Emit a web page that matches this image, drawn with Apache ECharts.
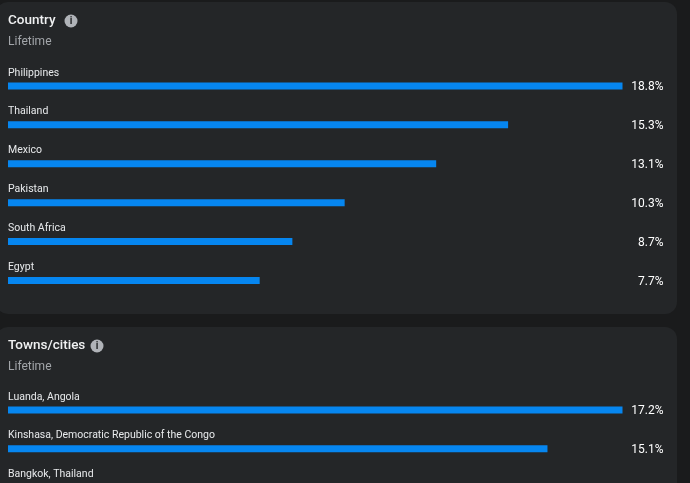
<!DOCTYPE html>
<html>
<head>
<meta charset="utf-8">
<style>html,body{margin:0;padding:0;background:#1a1b1c}#chart{width:690px;height:483px}</style>
<script src="https://cdn.jsdelivr.net/npm/echarts@6/dist/echarts.min.js"></script>
</head>
<body>
<div id="chart"></div>
<script>
const countryNames = ['Philippines', 'Thailand', 'Mexico', 'Pakistan', 'South Africa', 'Egypt'];
const countryShares = [18.8, 15.3, 13.1, 10.3, 8.7, 7.7];
// The third city sits below the fold: only its name shows.
const cityNames = ['Luanda, Angola', 'Kinshasa, Democratic Republic of the Congo', 'Bangkok, Thailand'];
const cityShares = [17.2, 15.1, null];

const FONT = 'Roboto, Lato, sans-serif';
const BAR = '#0686f0';
const PANEL = '#242628';

function share(v) { return v == null ? '' : v.toFixed(1) + '%'; }

function panelAxes(gridIndex, names, shares, maxValue) {
  return {
    x: { type: 'value', gridIndex, min: 0, max: maxValue, show: false },
    y: [
      {
        type: 'category', gridIndex, inverse: true, data: names,
        axisLine: { show: false }, axisTick: { show: false },
        axisLabel: {
          inside: true, margin: 0, align: 'left', verticalAlign: 'bottom',
          padding: [0, 0, 7.5, 0], color: '#e8eaec', fontFamily: FONT, fontSize: 10.5
        }
      },
      {
        type: 'category', gridIndex, inverse: true, position: 'right', data: shares.map(share),
        axisLine: { show: false }, axisTick: { show: false },
        axisLabel: {
          margin: 41, align: 'right', verticalAlign: 'top', lineHeight: 3,
          color: '#ffffff', fontFamily: FONT, fontSize: 12
        }
      }
    ]
  };
}

const a = panelAxes(0, countryNames, countryShares, 18.8);
const b = panelAxes(1, cityNames, cityShares, 17.2);

function infoIcon(cx, cy) {
  return [
    { type: 'circle', shape: { cx, cy, r: 6.5 }, style: { fill: '#b0b3b8' } },
    { type: 'text', x: cx, y: cy, style: { text: 'i', fill: PANEL, font: 'bold 10px ' + FONT, align: 'center', verticalAlign: 'middle' } }
  ];
}

function panelRect(y, height) {
  return { type: 'rect', z: -1, shape: { x: -4, y, width: 681, height, r: 12 }, style: { fill: PANEL } };
}

function heading(text, top) {
  return {
    text, left: 8, top,
    textStyle: { color: '#f0f1f2', fontFamily: FONT, fontSize: 13.5, fontWeight: 500 },
    padding: 0
  };
}
function lifetime(top) {
  return {
    text: 'Lifetime', left: 8, top,
    textStyle: { color: '#a3a6aa', fontFamily: FONT, fontSize: 12, fontWeight: 400 },
    padding: 0
  };
}

const chart = echarts.init(document.getElementById('chart'), null, { renderer: 'canvas' });
chart.setOption({
  animation: false,
  backgroundColor: '#1a1b1c',
  title: [heading('Country', 14), lifetime(36), heading('Towns/cities', 339), lifetime(361)],
  graphic: [panelRect(2, 312), panelRect(327, 170), ...infoIcon(71, 21), ...infoIcon(97, 346)],
  grid: [
    { left: 8, top: 66.5, width: 614.5, height: 233.4, outerBoundsMode: 'none' },
    { left: 8, top: 390.5, width: 614.5, height: 116.7, outerBoundsMode: 'none' }
  ],
  xAxis: [a.x, b.x],
  yAxis: [...a.y, ...b.y],
  series: [
    { type: 'bar', xAxisIndex: 0, yAxisIndex: 0, data: countryShares, barWidth: 7, itemStyle: { color: BAR } },
    { type: 'bar', xAxisIndex: 1, yAxisIndex: 2, data: cityShares, barWidth: 7, itemStyle: { color: BAR } }
  ]
});
</script>
</body>
</html>
